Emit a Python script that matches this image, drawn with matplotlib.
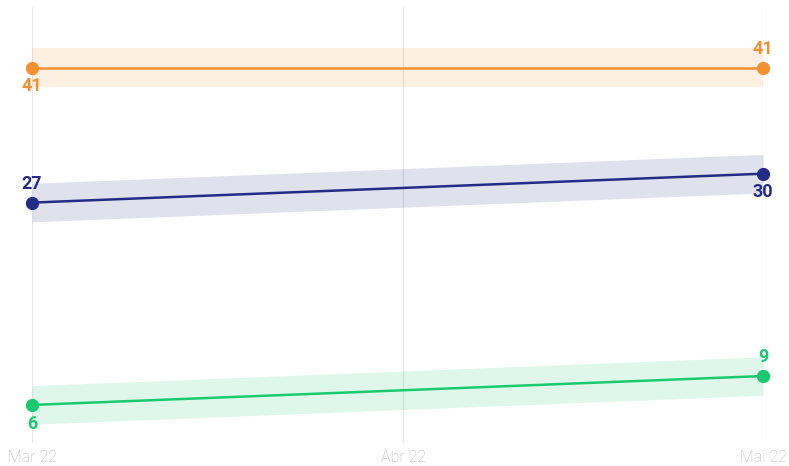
import datetime as dt
import matplotlib.pyplot as plt

plt.rcParams['font.family'] = ['Roboto', 'DejaVu Sans']

dates = [dt.date(2022, 3, 1), dt.date(2022, 5, 1)]
tick_dates = [dt.date(2022, 3, 1), dt.date(2022, 4, 1), dt.date(2022, 5, 1)]
tick_labels = ['Mar 22', 'Abr 22', 'Mai 22']

orange_vals = [41, 41]
navy_vals = [27, 30]
green_vals = [6, 9]
band = 2

series = [
    (orange_vals, '#F39130', ['below', 'above']),
    (navy_vals, '#232C85', ['above', 'below']),
    (green_vals, '#19C96D', ['below', 'above']),
]

fig = plt.figure(figsize=(7.89, 4.66), dpi=100)
ax = fig.add_axes([32 / 789, 23 / 466, (763 - 32) / 789, (443 - 7) / 466])

for vals, color, pos in series:
    lo = [v - band for v in vals]
    hi = [v + band for v in vals]
    ax.fill_between(dates, lo, hi, color=color, alpha=0.14, linewidth=0, zorder=1)
    ax.plot(dates, vals, color=color, linewidth=1.8, marker='o', markersize=8.5, zorder=3,
            clip_on=False)
    for d, v, p in zip(dates, vals, pos):
        off = 13.5 if p == 'above' else -13.5
        ax.annotate(str(v), (d, v), xytext=(0, off), textcoords='offset points',
                    ha='center', va='center', fontsize=13, fontweight='bold',
                    color=color, zorder=4)

ax.set_xlim(dates[0], dates[-1])
ax.set_ylim(2.05, 47.3)
ax.set_xticks(tick_dates)
ax.set_xticklabels(tick_labels, fontweight='light')
ax.tick_params(axis='x', length=0, pad=5, labelsize=11.5, labelcolor='#b8b8b8')
ax.set_yticks([])
for d in tick_dates:
    ax.axvline(d, color='#e8e8e8', linewidth=1, zorder=0)
for s in ax.spines.values():
    s.set_visible(False)

fig.savefig('out.png', dpi=100)
